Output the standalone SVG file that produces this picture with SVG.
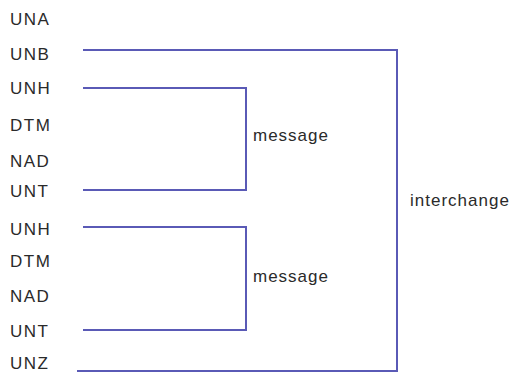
<svg xmlns="http://www.w3.org/2000/svg" width="511" height="374" viewBox="0 0 511 374">
<style>
text{font-family:"Liberation Sans",Arial,sans-serif;font-size:17px;fill:#2a2a2a}
.seg{letter-spacing:1.5px}
.lbl{letter-spacing:1px}
.c{fill:none;stroke:#5a5ab6;stroke-width:2}
</style>
<rect width="511" height="374" fill="#fff"/>
<g id="segments">
<g id="n-una"><text class="seg" x="10" y="25">UNA</text></g>
<g id="n-unb"><text class="seg" x="10" y="60">UNB</text></g>
<g id="n-unh1"><text class="seg" x="10" y="94">UNH</text></g>
<g id="n-dtm1"><text class="seg" x="10" y="131">DTM</text></g>
<g id="n-nad1"><text class="seg" x="10" y="167">NAD</text></g>
<g id="n-unt1"><text class="seg" x="10" y="197">UNT</text></g>
<g id="n-unh2"><text class="seg" x="10" y="235">UNH</text></g>
<g id="n-dtm2"><text class="seg" x="10" y="267">DTM</text></g>
<g id="n-nad2"><text class="seg" x="10" y="302">NAD</text></g>
<g id="n-unt2"><text class="seg" x="10" y="337">UNT</text></g>
<g id="n-unz"><text class="seg" x="10" y="369">UNZ</text></g>
</g>
<g id="labels">
<g id="l-message1"><text class="lbl" x="253" y="141">message</text></g>
<g id="l-message2"><text class="lbl" x="253" y="282">message</text></g>
<g id="l-interchange"><text class="lbl" x="410" y="206">interchange</text></g>
</g>
<g id="connectors">
<polyline class="c" points="83,50 397,50 397,371 77,371"/>
<polyline class="c" points="83,88 246,88 246,190 83,190"/>
<polyline class="c" points="83,227 246,227 246,330 83,330"/>
</g>
</svg>
